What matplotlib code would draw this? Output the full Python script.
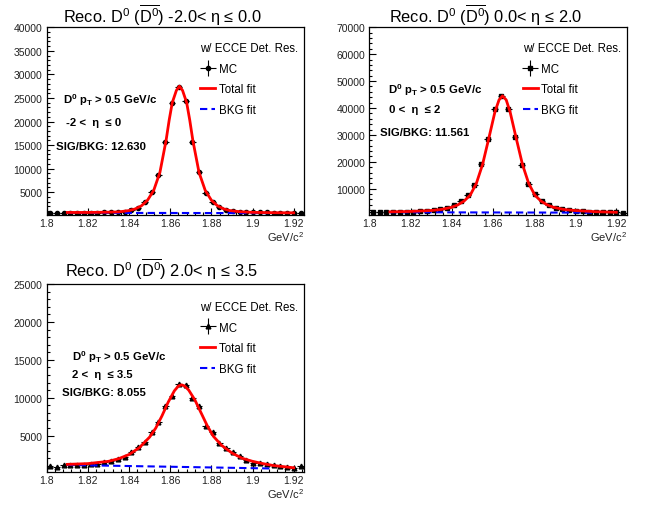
import numpy as np
import matplotlib
matplotlib.use("Agg")
import matplotlib.pyplot as plt
from matplotlib.lines import Line2D
from matplotlib.legend_handler import HandlerTuple
from matplotlib.ticker import MultipleLocator

plt.rcParams["font.family"] = ["Liberation Sans", "DejaVu Sans"]
plt.rcParams["mathtext.fontset"] = "custom"
plt.rcParams["mathtext.rm"] = "Liberation Sans"
plt.rcParams["mathtext.it"] = "Liberation Sans:italic"
plt.rcParams["mathtext.bf"] = "Liberation Sans:bold"

# histogram binning (GeV/c^2)
mass_lo, mass_hi, n_bins = 1.8, 1.925, 38

# MC counts per bin
mc_eta1 = [650, 650, 650, 640, 650, 640, 660, 650, 700, 700, 750, 900, 1250, 1750,
           3000, 5000, 8700, 15600, 23900, 27300, 24300, 15700, 9200, 4900, 2900,
           1900, 1200, 950, 850, 800, 750, 700, 700, 650, 650, 600, 600, 600]
mc_eta2 = [1200, 1200, 1200, 1300, 1300, 1400, 1500, 1700, 1900, 2100, 2500, 3000,
           3900, 5500, 7500, 11200, 19000, 28600, 39800, 44500, 39800, 29200, 18700,
           11700, 8000, 5500, 4000, 3000, 2550, 2100, 1800, 1600, 1400, 1300, 1300,
           1200, 1200, 1000]
mc_eta3 = [1000, 900, 1150, 1100, 1050, 1100, 1200, 1300, 1460, 1640, 1900, 2210,
           2790, 3540, 4120, 5440, 6770, 8850, 10270, 11860, 11680, 9960, 8850, 6330,
           5530, 3980, 3410, 2790, 2350, 1770, 1420, 1330, 1200, 1100, 950, 900, 750, 950]

# total fit curves
fit_x1 = [1.81, 1.82, 1.83, 1.835, 1.840, 1.843, 1.846, 1.849, 1.852, 1.855, 1.858,
          1.8595, 1.861, 1.863, 1.8645, 1.866, 1.868, 1.8695, 1.871, 1.874, 1.877,
          1.880, 1.883, 1.886, 1.889, 1.894, 1.90, 1.91, 1.92]
fit_y1 = [700, 700, 760, 820, 1100, 1450, 2100, 3300, 5400, 9200, 16000, 20300,
          24000, 26600, 27500, 26600, 24000, 20300, 16000, 9200, 5400, 3300, 2100,
          1450, 1100, 850, 720, 650, 620]
fit_x2 = [1.81, 1.82, 1.83, 1.835, 1.840, 1.843, 1.846, 1.849, 1.852, 1.855, 1.858,
          1.861, 1.863, 1.8647, 1.8665, 1.8684, 1.8714, 1.8744, 1.8774, 1.8804,
          1.8834, 1.8864, 1.8894, 1.8944, 1.90, 1.91, 1.92]
fit_y2 = [1400, 1550, 1900, 2300, 3100, 4000, 5400, 7600, 12000, 19000, 28600,
          38500, 43000, 44500, 43000, 38500, 28600, 19000, 12000, 7600, 5400, 4000,
          3100, 2300, 1900, 1450, 1250]
fit_x3 = [1.81, 1.82, 1.83, 1.835, 1.84, 1.845, 1.85, 1.853, 1.856, 1.859, 1.862,
          1.864, 1.8655, 1.867, 1.869, 1.872, 1.875, 1.878, 1.881, 1.885, 1.89,
          1.895, 1.90, 1.905, 1.91, 1.915, 1.92]
fit_y3 = [1200, 1300, 1600, 1950, 2500, 3400, 4800, 6000, 7600, 9400, 10900, 11550,
          11700, 11550, 11000, 9700, 8000, 6300, 4900, 3700, 2700, 2000, 1600, 1300,
          1050, 900, 750]

# background fits (straight lines)
bkg_x = [1.81, 1.91]
bkg_y1 = [620, 560]
bkg_y2 = [1250, 1100]
bkg_y3 = [1120, 650]

titles = [r"Reco. D$^{0}$ ($\overline{\mathrm{D}^{0}}$) -2.0< η ≤ 0.0",
          r"Reco. D$^{0}$ ($\overline{\mathrm{D}^{0}}$) 0.0< η ≤ 2.0",
          r"Reco. D$^{0}$ ($\overline{\mathrm{D}^{0}}$) 2.0< η ≤ 3.5"]
eta_labels = ["-2 <  η  ≤ 0", "0 <  η  ≤ 2", "2 <  η  ≤ 3.5"]
sig_bkg = ["SIG/BKG: 12.630", "SIG/BKG: 11.561", "SIG/BKG: 8.055"]
y_max = [40000, 70000, 25000]
y_min = [200, 300, 150]
y_step = [5000, 10000, 5000]
markers = ["o", "s", "^"]
marker_sizes = [3.0, 3.4, 3.4]

edges = np.linspace(mass_lo, mass_hi, n_bins + 1)
centers = 0.5 * (edges[1:] + edges[:-1])
half_w = 0.5 * (edges[1] - edges[0])

fig = plt.figure(figsize=(6.48, 5.06), dpi=100)
axes_rects = [[0.0721, 0.5735, 0.397, 0.3706],
              [0.570, 0.5735, 0.397, 0.3706],
              [0.0721, 0.0646, 0.397, 0.372]]
title_pos = [(0.25, 0.970), (0.75, 0.970), (0.25, 0.468)]
text_pos = [[(0.063, 0.618), (0.075, 0.495), (0.036, 0.368)],
            [(0.073, 0.671), (0.077, 0.564), (0.042, 0.442)],
            [(0.098, 0.618), (0.098, 0.522), (0.059, 0.426)]]
leg_anchor = [(0.565, 0.962), (0.565, 0.962), (0.565, 0.952)]

data = [(mc_eta1, fit_x1, fit_y1, bkg_y1),
        (mc_eta2, fit_x2, fit_y2, bkg_y2),
        (mc_eta3, fit_x3, fit_y3, bkg_y3)]

for k, (mc, fx, fy, by) in enumerate(data):
    ax = fig.add_axes(axes_rects[k])
    ax.errorbar(centers, mc, xerr=half_w, fmt=markers[k], color="black",
                ms=marker_sizes[k], elinewidth=0.8, capsize=0, zorder=2)
    ax.plot(bkg_x, by, color="#0000ff", lw=1.5, ls=(0, (3.5, 2)), zorder=3)
    ax.plot(fx, fy, color="#ff0000", lw=2.0, zorder=4)

    ax.set_xlim(mass_lo, mass_hi)
    ax.set_ylim(y_min[k], y_max[k])
    ax.set_yticks(np.arange(y_step[k], y_max[k] + 1, y_step[k]))
    ax.set_xticks([1.8, 1.82, 1.84, 1.86, 1.88, 1.9, 1.92])
    ax.set_xticklabels(["1.8", "1.82", "1.84", "1.86", "1.88", "1.9", "1.92"])
    ax.xaxis.set_minor_locator(MultipleLocator(0.004))
    ax.yaxis.set_minor_locator(MultipleLocator(y_step[k] / 5))
    ax.tick_params(which="both", direction="in", top=False, right=False,
                   labelsize=7.5, labelcolor="#222222", pad=3)
    ax.tick_params(axis="x", which="major", pad=2)
    ax.tick_params(which="major", length=5, width=0.8)
    ax.tick_params(which="minor", length=2.5, width=0.8)
    for s in ax.spines.values():
        s.set_linewidth(0.9)
    ax.text(1.0, -0.113, r"GeV/c$^{2}$", transform=ax.transAxes, ha="right",
            va="center", fontsize=8, color="#222222")

    fig.text(title_pos[k][0], title_pos[k][1], titles[k], ha="center", va="center",
             fontsize=11.8)

    tp = text_pos[k]
    ax.text(tp[0][0], tp[0][1], r"D$^{\mathbf{0}}$ p$_{\mathbf{T}}$ > 0.5 GeV/c",
            transform=ax.transAxes, fontsize=8.2, fontweight="bold", va="center")
    ax.text(tp[1][0], tp[1][1], eta_labels[k], transform=ax.transAxes,
            fontsize=8.2, fontweight="bold", va="center")
    ax.text(tp[2][0], tp[2][1], sig_bkg[k], transform=ax.transAxes,
            fontsize=8.2, fontweight="bold", va="center")

    mc_handle = (Line2D([], [], marker="+", ms=11, mew=0.8, color="black", ls="none"),
                 Line2D([], [], marker=markers[k], ms=marker_sizes[k], color="black",
                        ls="none"))
    h_fit = Line2D([], [], color="#ff0000", lw=2.0)
    h_bkg = Line2D([], [], color="#0000ff", lw=1.5, ls=(0, (3.5, 2)))
    leg = ax.legend([mc_handle, h_fit, h_bkg], ["MC", "Total fit", "BKG fit"],
                    title="w/ ECCE Det. Res.", alignment="left",
                    handler_map={tuple: HandlerTuple(ndivide=1)},
                    loc="upper left", bbox_to_anchor=leg_anchor[k], frameon=False,
                    fontsize=8.3, title_fontsize=8.3, handlelength=1.3,
                    handletextpad=0.3, labelspacing=0.75, borderpad=0.2)
    leg._legend_box.sep = 6

fig.savefig("out.png", dpi=100)
